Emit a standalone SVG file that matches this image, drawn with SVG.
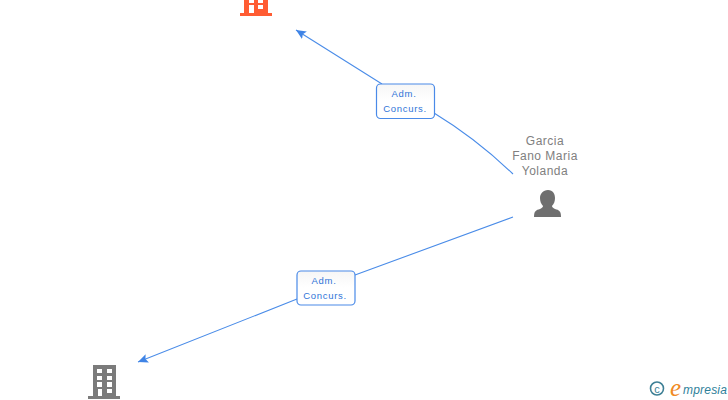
<svg xmlns="http://www.w3.org/2000/svg" width="728" height="400" viewBox="0 0 728 400">
<style>
.c{fill:none;stroke:#4a8ce8;stroke-width:1.1}
.l{fill:#fff;stroke:#4a8ae8;stroke-width:1.2}
.lt{font:9.500px "Liberation Sans",Arial,sans-serif;fill:#2f74d8;text-anchor:middle;letter-spacing:.7px}
.nt{font:12px "Liberation Sans",Arial,sans-serif;fill:#808080;text-anchor:middle;letter-spacing:.5px}
</style>
<defs>
<marker id="a" markerUnits="userSpaceOnUse" markerWidth="11" markerHeight="11" refX="10" refY="5" orient="auto"><path d="M0 0.500L10 5L0 9.500L2 5Z" fill="#3f84e6"/></marker>
<linearGradient id="g" x1="0" y1="0" x2="0" y2="1"><stop offset="0" stop-color="#f6f6f6"/><stop offset=".5" stop-color="#fff"/></linearGradient>
</defs>
<g id="connectors">
<path class="c" d="M513 174C488 150 462 130 434 113M382 84L296 30" marker-end="url(#a)"/>
<path class="c" d="M513 217L355 275M297 299L138 362" marker-end="url(#a)"/>
</g>
<g id="node-top">
<path fill="#ff5c33" fill-rule="evenodd" d="M244 0h24v13h4v3h-32v-3h4zM249 0v3h5V0zM258 0v3h5V0zM249 5v8h5V5zM258 5v4h5V5z"/>
</g>
<g id="label-top">
<rect class="l" x="376.500" y="84" width="58" height="34.500" rx="4" style="fill:url(#g)"/>
<text class="lt" x="404" y="97">Adm.</text>
<text class="lt" x="405" y="112">Concurs.</text>
</g>
<g id="node-person">
<text class="nt" x="545" y="145">Garcia</text>
<text class="nt" x="545" y="160">Fano Maria</text>
<text class="nt" x="545" y="175">Yolanda</text>
<path fill="#6f6f6f" d="M548 190c5 0 7 4 7 8c0 3-1 6-3 8c0 1 1 2 3 3c4 1 6 2 6 8h-27c0-6 2-7 6-8c2-1 3-2 3-3c-2-2-3-5-3-8c0-4 3-8 8-8z"/>
</g>
<g id="label-bottom">
<rect class="l" x="297" y="271" width="58" height="34" rx="4" style="fill:url(#g)"/>
<text class="lt" x="324" y="284">Adm.</text>
<text class="lt" x="325" y="299">Concurs.</text>
</g>
<g id="node-bottom">
<path fill="#7b7b7b" fill-rule="evenodd" d="M93 365h23v31h4v3h-32v-3h5zM97 369v4h5v-4zM107 369v4h5v-4zM97 376v4h5v-4zM107 376v4h5v-4zM97 382v5h5v-5zM107 382v5h5v-5zM98 389v7h4v-7zM107 389v4h5v-4z"/>
</g>
<g id="watermark">
<circle cx="657" cy="388.500" r="6.500" fill="none" stroke="#3d7f95" stroke-width="1.600"/>
<text x="657" y="392.500" font-family="Liberation Sans,sans-serif" font-size="11" fill="#3d7f95" text-anchor="middle">c</text>
<text x="670" y="396" font-family="Liberation Serif,serif" font-style="italic" font-size="25" fill="#f08a24">e</text>
<text x="683" y="394" font-family="Liberation Sans,sans-serif" font-style="italic" font-size="12" fill="#2f7f9a" letter-spacing=".2">mpresia</text>
</g>
</svg>
